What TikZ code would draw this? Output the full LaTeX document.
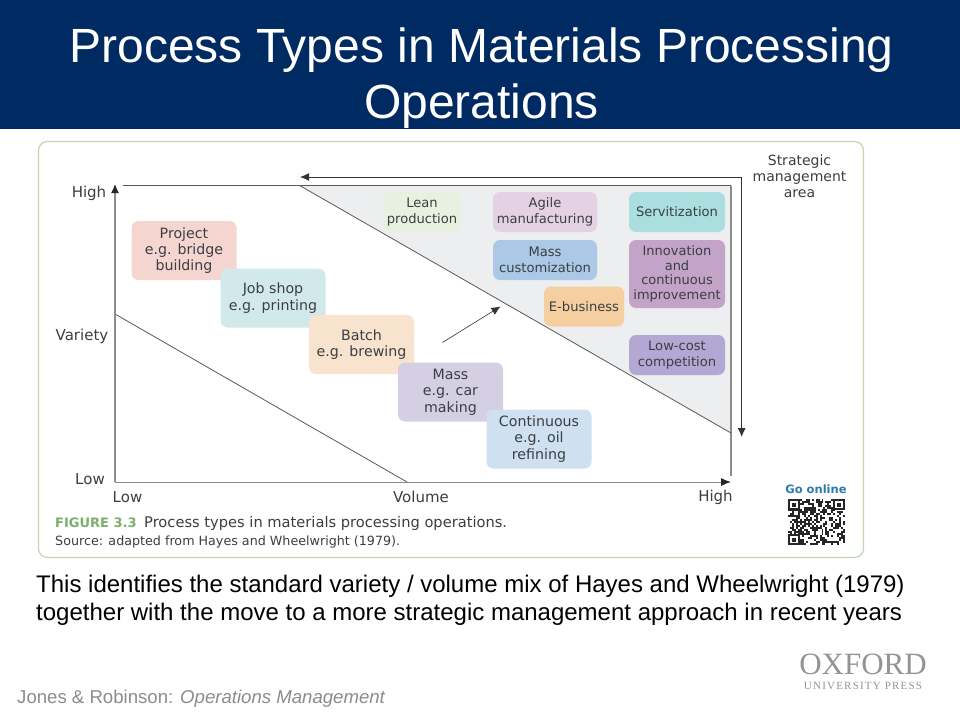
\documentclass[tikz,border=0pt]{standalone}
\usepackage{fontspec}
\setmainfont{Liberation Sans}
\newfontfamily\figfont{DejaVu Sans}
\newfontfamily\logofont{Liberation Serif}
\newfontfamily\pressfont{Liberation Serif}[LetterSpace=11]
\usetikzlibrary{positioning, calc, arrows.meta}
\definecolor{banner}{HTML}{002B62}
\definecolor{figtext}{HTML}{3A3F44}
\definecolor{axisgrey}{HTML}{8C8C8C}
\definecolor{areagrey}{HTML}{ECEEF0}
\definecolor{framegreen}{HTML}{C3D6B4}
\definecolor{fignumber}{HTML}{7DAF6E}
\tikzstyle{Arrow} = [draw = black!80, line width = 0.9pt, -{Latex[length = 9pt, width = 8pt]}]
\begin{document}
\begin{tikzpicture}[
		x = 1pt, y = -1pt,
		procbox/.style = {rectangle, rounded corners = 7pt, align = center, inner sep = 0pt, text = figtext, font = \figfont\fontsize{13.1}{15.8}\selectfont},
		typebox/.style = {procbox, minimum width = 105pt, minimum height = 59pt, font = \figfont\fontsize{14.2}{16.4}\selectfont},
		figlabel/.style = {inner sep = 0pt, text = figtext, align = center, font = \figfont\fontsize{15}{16}\selectfont},
		axisline/.style = {draw = axisgrey, line width = 1.4pt},
		thinline/.style = {draw = black!65, line width = 0.8pt},
	]
	\useasboundingbox (0,0) rectangle (960,720);
	\fill[white] (0,0) rectangle (960,720);

	% banner
	\fill[banner] (0,0) rectangle (960,129);
	\node[text = white, align = center, inner sep = 0pt, font = \fontsize{48}{56}\selectfont](Title) at (481.5,78){Process Types in Materials Processing\\Operations};

	% frame of the figure
	\draw[framegreen, line width = 1.2pt, rounded corners = 9pt] (38.5,141.5) rectangle (863.5,557.5);

	\coordinate(Origin) at (115,482);
	\coordinate(YTop) at (115,184);
	\coordinate(XEnd) at (731,482);
	\coordinate(TopLeft) at (123,185.7);
	\coordinate(TopMid) at (300,185.7);
	\coordinate(TopRight) at (731,185.7);
	\coordinate(RightMid) at (731,433);
	\coordinate(RightEnd) at (731,476);
	\coordinate(LeftMid) at (115,314);
	\coordinate(BottomMid) at (407,482);
	\coordinate(StratCorner) at (741.7,177);
	\coordinate(StratLeft) at (300,177);
	\coordinate(StratDown) at (741.7,437);
	\coordinate(MoveFrom) at (442.5,342.5);
	\coordinate(MoveTo) at (500.5,306.5);

	% strategic area
	\fill[areagrey] (TopMid)--(TopRight)--(RightMid)--cycle;

	\draw[thinline](TopLeft)--(TopRight);
	\draw[axisline](TopRight)--(RightEnd);
	\draw[thinline](TopMid)--(RightMid);
	\draw[thinline](LeftMid)--(BottomMid);
	\draw[axisline, -{Latex[length = 9pt, width = 8pt, black!85]}](Origin)--(YTop);
	\draw[axisline, line width = 1pt, -{Latex[length = 10pt, width = 8pt, black!85]}](Origin)--(XEnd);
	\draw[Arrow](StratCorner)--(StratLeft);
	\draw[Arrow](StratCorner)--(StratDown);
	\draw[Arrow, line width = 0.6pt](MoveFrom)--(MoveTo);

	% process types
	\node[typebox, fill = {rgb,255:red,245;green,213;blue,208}](Project) at (184,250.5){Project\\e.g. bridge\\building};
	\node[typebox, fill = {rgb,255:red,210;green,233;blue,235}](JobShop) at (273,298){Job shop\\e.g. printing};
	\node[typebox, fill = {rgb,255:red,248;green,227;blue,207}](Batch) at (361.5,344.5){Batch\\e.g. brewing};
	\node[typebox, fill = {rgb,255:red,213;green,207;blue,228}](Mass) at (450.5,392){Mass\\e.g. car\\making};
	\node[typebox, fill = {rgb,255:red,207;green,224;blue,240}](Continuous) at (539,439){Continuous\\e.g. oil\\refining};

	% strategic management
	\node[procbox, fill = {rgb,255:red,232;green,241;blue,224}, minimum width = 78pt, minimum height = 40pt](Lean) at (422,212){Lean\\production};
	\node[procbox, fill = {rgb,255:red,228;green,209;blue,228}, minimum width = 104pt, minimum height = 40pt](Agile) at (545,212){Agile\\manufacturing};
	\node[procbox, fill = {rgb,255:red,171;green,200;blue,230}, minimum width = 104pt, minimum height = 40pt](MassCust) at (545,260){Mass\\customization};
	\node[procbox, fill = {rgb,255:red,171;green,223;blue,223}, minimum width = 96pt, minimum height = 40pt](Servit) at (677,212){Servitization};
	\node[procbox, fill = {rgb,255:red,196;green,163;blue,201}, minimum width = 96pt, minimum height = 68pt, font = \figfont\fontsize{13}{14.5}\selectfont](Innovation) at (677,274){Innovation\\and\\continuous\\improvement};
	\node[procbox, fill = {rgb,255:red,246;green,207;blue,160}, minimum width = 80pt, minimum height = 40pt](EBusiness) at (584,306.5){E-business};
	\node[procbox, fill = {rgb,255:red,179;green,168;blue,212}, minimum width = 96pt, minimum height = 40pt](LowCost) at (677,355){Low-cost\\competition};

	% axis labels
	\node[figlabel](YHigh) at (89,193){High};
	\node[figlabel](YVariety) at (82,336){Variety};
	\node[figlabel](YLow) at (90,479){Low};
	\node[figlabel](XLow) at (127.5,497){Low};
	\node[figlabel](XVolume) at (421,497){Volume};
	\node[figlabel](XHigh) at (715.5,497){High};
	\node[figlabel, font = \figfont\fontsize{14}{16}\selectfont](Strategic) at (799.5,176.5){Strategic\\management\\area};

	% caption
	\node[figlabel, anchor = west, text = fignumber, font = \figfont\bfseries\fontsize{13}{14}\selectfont](FigNo) at (55,523){FIGURE 3.3};
	\node[figlabel, anchor = west, font = \figfont\fontsize{14.65}{16}\selectfont](FigTitle) at (144,523){Process types in materials processing operations.};
	\node[figlabel, anchor = west, font = \figfont\fontsize{12.7}{14}\selectfont](FigSource) at (55,542){Source: adapted from Hayes and Wheelwright (1979).};
	\node[figlabel, text = {rgb,255:red,45;green,125;blue,170}, font = \figfont\bfseries\fontsize{11.5}{14}\selectfont](GoOnline) at (816,489.5){Go online};

	% code square
	\pgfmathsetseed{37}
	\foreach \qx in {0,...,28}{
		\foreach \qy in {0,...,22}{
			\pgfmathrandominteger{\qbit}{0}{1}
			\ifnum\qbit=1
				\fill[black!85] ({788+\qx*1.97},{499+\qy*1.98}) rectangle +(1.97,1.98);
			\fi
		}
	}
	\foreach \qx/\qy in {788/499, 833/499, 788/534}{
		\fill[white] (\qx,\qy) rectangle +(12,11);
		\draw[black!85, line width = 1.6pt] (\qx+1,\qy+1) rectangle +(10,9);
		\fill[black!85] (\qx+4,\qy+3.5) rectangle +(4,4);
	}

	% text below
	\node[anchor = north west, align = left, inner sep = 0pt, font = \fontsize{24}{28}\selectfont](Note) at (36,575){This identifies the standard variety / volume mix of Hayes and Wheelwright (1979)\\together with the move to a more strategic management approach in recent years};
	\node[anchor = west, inner sep = 0pt, text = black!45, font = \fontsize{18.6}{20}\selectfont](Footer) at (17,699){Jones \& Robinson: \textit{Operations Management}};

	% publisher
	\node[inner sep = 0pt, text = black!42, font = \logofont\fontsize{31}{32}\selectfont](Oxford) at (863,664){OXFORD};
	\node[inner sep = 0pt, text = black!42, font = \pressfont\fontsize{11}{12}\selectfont](Press) at (863,686){UNIVERSITY PRESS};
\end{tikzpicture}
\end{document}
